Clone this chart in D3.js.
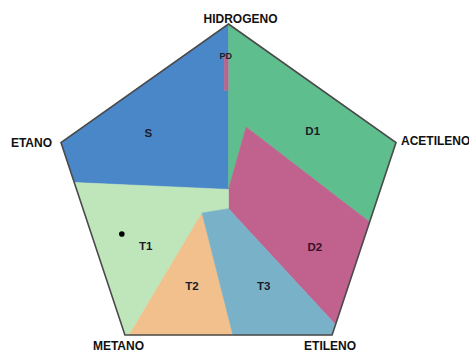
<!DOCTYPE html>
<html><head><meta charset="utf-8">
<script src="https://cdn.jsdelivr.net/npm/d3@7"></script>
<style>html,body{margin:0;padding:0;background:#fff;}</style>
</head><body>
<svg id="c" width="469" height="353"></svg>
<script>
// Gas vertices (Duval pentagon 1, relative % coordinates)
const gases = ["HIDROGENO","ACETILENO","ETILENO","METANO","ETANO"];
const gasX = [0, 38, 23.5, -23.5, -38];
const gasY = [40, 12.4, -32.4, -32.4, 12.4];

// Zones
const zoneNames = ["S","D1","D2","T1","T2","T3","PD"];
const zoneX = [
  [-35,-38,0,0,-1,-1,0,0],
  [0,38,32,4,0],
  [4,32,24.3,0,0],
  [-35,0,0,-6,-22.5,-23.5],
  [-6,1,-22.5],
  [-6,1,23.5,24.3,0],
  [0,-1,-1,0]
];
const zoneY = [
  [3.1,12.4,40,33,33,24.5,24.5,1.5],
  [40,12.4,-6.1,16,1.5],
  [16,-6.1,-30,-3,1.5],
  [3.1,1.5,-3,-4,-32.4,-32.4],
  [-4,-32.4,-32.4],
  [-4,-32.4,-32.4,-30,-3],
  [33,33,24.5,24.5]
];
const labelX = [-18.2, 19.1, 19.6, -18.8, -8.3, 8.0, -0.6];
const labelY = [14.6, 15.1, -11.8, -11.7, -21.0, -21.0, 32.5];

// Sample point
const pointX = [-24.2];
const pointY = [-8.9];

const colors = {S:"#4a87c9", D1:"#5fbe8d", D2:"#c0618e", T1:"#bfe5bb", T2:"#f2c08c", T3:"#79b2c8", PD:"#b3668f"};

const x = d3.scaleLinear().domain([-38, 38]).range([61, 396]);
const y = d3.scaleLinear().domain([-32.4, 40]).range([335, 24]);
const svg = d3.select("#c");

const line = d3.line().x(d => x(d[0])).y(d => y(d[1]));
const pent = gasX.map((v,i) => [v, gasY[i]]);

// zones
zoneNames.forEach((z, i) => {
  const pts = zoneX[i].map((v,j) => [v, zoneY[i][j]]);
  svg.append("path").attr("d", line(pts) + "Z")
    .attr("fill", colors[z]).attr("stroke", colors[z]).attr("stroke-width", z==="PD"?0:0.6);
});

// outline
svg.append("path").attr("d", line(pent) + "Z")
  .attr("fill", "none").attr("stroke", "#4b4b4b").attr("stroke-width", 1.6).attr("stroke-linejoin","miter");

// zone labels
zoneNames.forEach((z, i) => {
  svg.append("text").attr("x", x(labelX[i])).attr("y", y(labelY[i]))
    .attr("text-anchor", "middle").attr("dominant-baseline", "central")
    .attr("font-family", "Liberation Sans, Arial, sans-serif").attr("font-weight", "bold")
    .attr("font-size", z==="PD" ? 9 : 11.5)
    .attr("fill", z==="D2" ? "#3a0f26" : "#1c1c2a")
    .text(z);
});

// point
svg.append("circle").attr("cx", x(pointX[0])).attr("cy", y(pointY[0])).attr("r", 2.8).attr("fill", "#000");

// vertex labels
const off = {
  HIDROGENO: {dx: 12, dy: -1, a: "middle"},
  ACETILENO: {dx: 5, dy: 2, a: "start"},
  ETILENO: {dx: -28, dy: 15, a: "start"},
  METANO: {dx: -32, dy: 15, a: "start"},
  ETANO: {dx: -9, dy: 4, a: "end"}
};
gases.forEach((g, i) => {
  const o = off[g];
  svg.append("text").attr("x", x(gasX[i]) + o.dx).attr("y", y(gasY[i]) + o.dy)
    .attr("text-anchor", o.a)
    .attr("font-family", "Liberation Sans, Arial, sans-serif").attr("font-weight", "bold")
    .attr("font-size", 12).attr("fill", "#111").text(g);
});
</script>
</body></html>
